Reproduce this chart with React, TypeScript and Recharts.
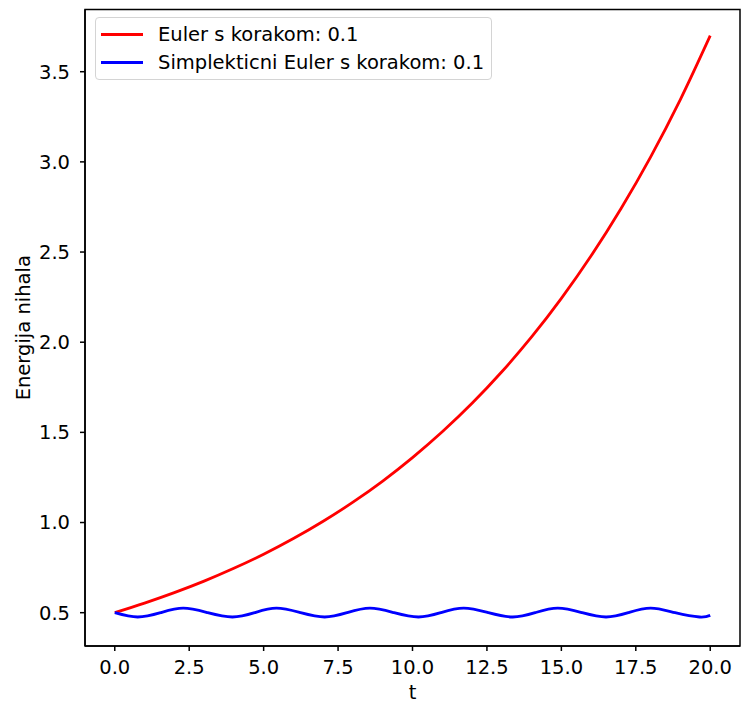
import React from 'react';
import { LineChart, Line, XAxis, YAxis, Legend, ReferenceArea } from 'recharts';

// Euler, step 0.1 (energy drifts upward)
const eulerT = [0, 1, 2, 3, 4, 5, 6, 7, 8, 9, 10, 11, 12, 13, 14, 15, 16, 17, 18, 19, 20];
const eulerE = [
    0.5, 0.553, 0.611, 0.675, 0.746, 0.824, 0.911, 1.007, 1.113, 1.23, 1.36,
    1.503, 1.661, 1.836, 2.029, 2.243, 2.479, 2.74, 3.028, 3.347, 3.7,
];

// symplectic Euler, step 0.1 (oscillates around 0.5)
const symT = [
    0, 0.77, 1.54, 2.3, 3.12, 3.95, 4.7, 5.43, 6.24, 7.05, 7.8, 8.57, 9.38, 10.2,
    10.95, 11.72, 12.55, 13.37, 14.12, 14.88, 15.7, 16.5, 17.25, 18.0, 18.82, 19.64, 20,
];
const symE = [
    0.5, 0.476, 0.5, 0.525, 0.5, 0.476, 0.5, 0.525, 0.5, 0.476, 0.5, 0.525, 0.5, 0.476,
    0.5, 0.525, 0.5, 0.476, 0.5, 0.525, 0.5, 0.476, 0.5, 0.525, 0.5, 0.476, 0.485,
];

const xTicks = [0, 2.5, 5, 7.5, 10, 12.5, 15, 17.5, 20];
const yTicks = [0.5, 1, 1.5, 2, 2.5, 3, 3.5];
const xDomain = [-1, 21];
const yDomain = [0.3153, 3.845];

const eulerData = eulerT.map((t, i) => ({ t, e: eulerE[i] }));
const symData = symT.map((t, i) => ({ t, e: symE[i] }));

const FONT = '"DejaVu Sans", sans-serif';
const FS = 19.5;

const LegendBox = (props: any) => {
    const items = props.payload || [];
    return (
        <div
            style={{
                width: 395,
                height: 61,
                border: '1.5px solid #d4d4d4',
                borderRadius: 4,
                background: 'rgba(255,255,255,0.8)',
                position: 'relative',
                fontFamily: FONT,
                fontSize: FS,
                color: '#000',
            }}
        >
            {items.map((it: any, i: number) => (
                <div
                    key={i}
                    style={{ position: 'absolute', left: 0, top: 2 + i * 28.3, height: 28, display: 'flex', alignItems: 'center' }}
                >
                    <div style={{ marginLeft: 5, width: 42, height: 3, background: it.color }} />
                    <span style={{ marginLeft: 15, whiteSpace: 'nowrap' }}>{it.value}</span>
                </div>
            ))}
        </div>
    );
};

export default function App() {
    return (
        <div style={{ position: 'absolute', left: 0, top: 0, background: '#fff' }}>
            <LineChart
                width={751}
                height={704}
                margin={{ top: 9.5, right: 11, bottom: 0, left: 0 }}
                style={{ fontFamily: FONT }}
            >
                <XAxis
                    dataKey="t"
                    type="number"
                    domain={xDomain}
                    ticks={xTicks}
                    allowDataOverflow
                    tickFormatter={(v: number) => v.toFixed(1)}
                    height={58}
                    tickSize={5}
                    tickMargin={9}
                    stroke="#000"
                    strokeWidth={1.5}
                    tick={{ fill: '#000', fontSize: FS }}
                    label={{ value: 't', position: 'insideBottom', offset: 5, fill: '#000', fontSize: FS }}
                />
                <YAxis
                    type="number"
                    domain={yDomain}
                    ticks={yTicks}
                    allowDataOverflow
                    tickFormatter={(v: number) => v.toFixed(1)}
                    width={85}
                    tickSize={5}
                    tickMargin={10}
                    stroke="#000"
                    strokeWidth={1.5}
                    tick={{ fill: '#000', fontSize: FS }}
                    label={{
                        value: 'Energija nihala',
                        angle: -90,
                        position: 'insideLeft',
                        offset: 23,
                        fill: '#000',
                        fontSize: FS,
                        style: { textAnchor: 'middle' },
                    }}
                />
                {/* frame around the plot area (top/right spines) */}
                <ReferenceArea
                    x1={xDomain[0]}
                    x2={xDomain[1]}
                    y1={yDomain[0]}
                    y2={yDomain[1]}
                    fill="none"
                    fillOpacity={0}
                    stroke="#000"
                    strokeWidth={1.5}
                    strokeOpacity={1}
                />
                <Legend
                    layout="horizontal"
                    verticalAlign="middle"
                    align="center"
                    content={LegendBox}
                    wrapperStyle={{ left: 95, top: 17, width: 'auto', height: 'auto' }}
                />
                <Line
                    data={eulerData}
                    dataKey="e"
                    name="Euler s korakom: 0.1"
                    type="monotone"
                    stroke="#ff0000"
                    strokeWidth={2.8}
                    dot={false}
                    isAnimationActive={false}
                />
                <Line
                    data={symData}
                    dataKey="e"
                    name="Simplekticni Euler s korakom: 0.1"
                    type="natural"
                    stroke="#0000ff"
                    strokeWidth={2.8}
                    dot={false}
                    isAnimationActive={false}
                />
            </LineChart>
        </div>
    );
}
